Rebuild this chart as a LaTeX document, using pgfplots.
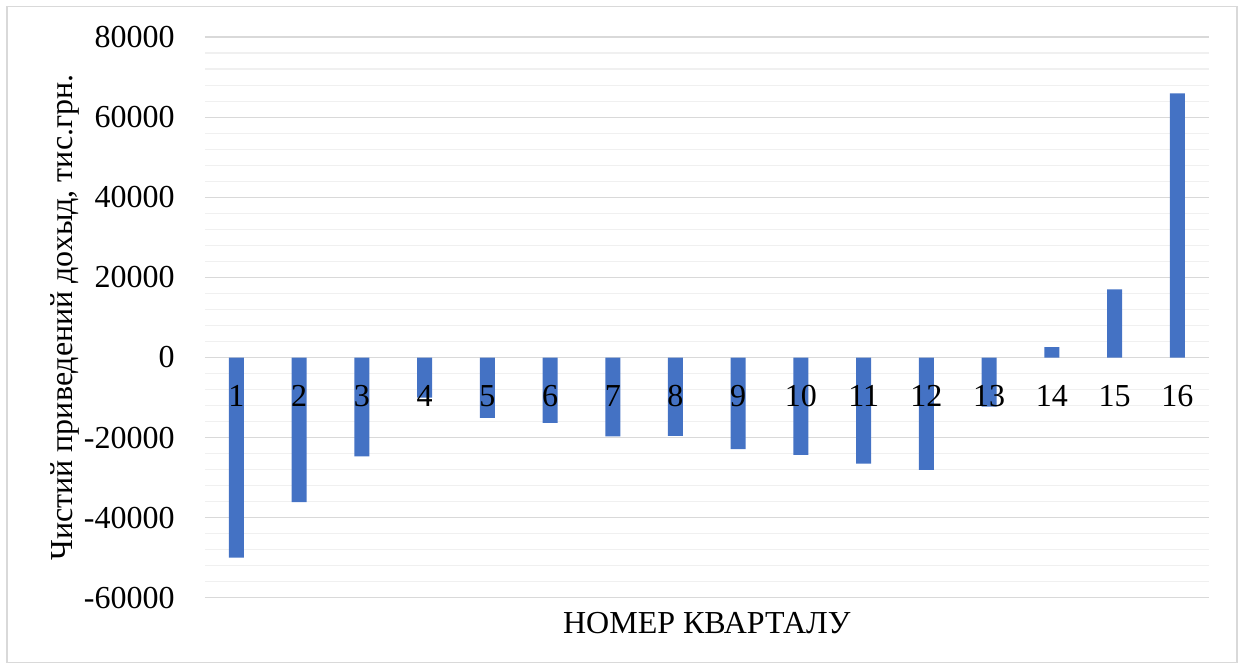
\documentclass[border=0pt]{standalone}
\usepackage{fontspec}
\setmainfont{Liberation Serif}
\usepackage{pgfplots}
\pgfplotsset{compat=1.18}
\definecolor{barblue}{HTML}{4472C4}
\definecolor{majgrid}{HTML}{D9D9D9}
\definecolor{mingrid}{HTML}{F0F0F0}
\pgfplotsset{
  common/.style={
    at={(0pt,0pt)}, anchor=south west,
    scale only axis, width=501.85pt, height=280.2pt,
    xmin=0.5, xmax=16.5, ymin=-60000, ymax=80000,
    axis line style={draw=none},
    major tick length=0pt, minor tick length=0pt,
    tick style={draw=none},
    scaled y ticks=false,
  }
}
\begin{document}
\fontsize{16}{19}\selectfont
\begin{tikzpicture}
\begin{axis}[
  common,
  ybar, bar width=7.5pt,
  xtick={1,2,3,4,5,6,7,8,9,10,11,12,13,14,15,16},
  xticklabels={},
  ytick={-60000,-40000,-20000,0,20000,40000,60000,80000},
  yticklabels={-60000,-40000,-20000,0,20000,40000,60000,80000},
  minor y tick num=4,
  ymajorgrids, yminorgrids,
  major grid style={majgrid, line width=0.8pt},
  minor grid style={mingrid, line width=0.8pt},
  yticklabel style={anchor=east, inner sep=0pt, xshift=-15pt},
  xlabel={НОМЕР КВАРТАЛУ},
  xlabel style={at={(axis description cs:0.5,0)}, anchor=north, inner sep=0pt, yshift=-7pt},
  ylabel={Чистий приведений дохыд, тис.грн.},
  ylabel style={at={(axis description cs:-0.132,0.5)}, anchor=base, inner sep=0pt},
]
\addplot[fill=barblue, draw=none] coordinates {
(1,-50000) (2,-36100) (3,-24700) (4,-10000) (5,-15100) (6,-16300) (7,-19700) (8,-19600)
(9,-22900) (10,-24300) (11,-26500) (12,-28100) (13,-12300) (14,2600) (15,17000) (16,66000)
};
\end{axis}
\begin{axis}[
  common,
  hide y axis,
  xtick={1,2,3,4,5,6,7,8,9,10,11,12,13,14,15,16},
  xticklabels={1,2,3,4,5,6,7,8,9,10,11,12,13,14,15,16},
  xticklabel style={anchor=north, inner sep=0pt, yshift=106.35pt},
]
\end{axis}
\draw[majgrid, line width=0.75pt] (-99pt,-32.5pt) rectangle (516pt,295.6pt);
\path (-102.5pt,-35.15pt) rectangle (517pt,298.85pt);
\end{tikzpicture}
\end{document}
